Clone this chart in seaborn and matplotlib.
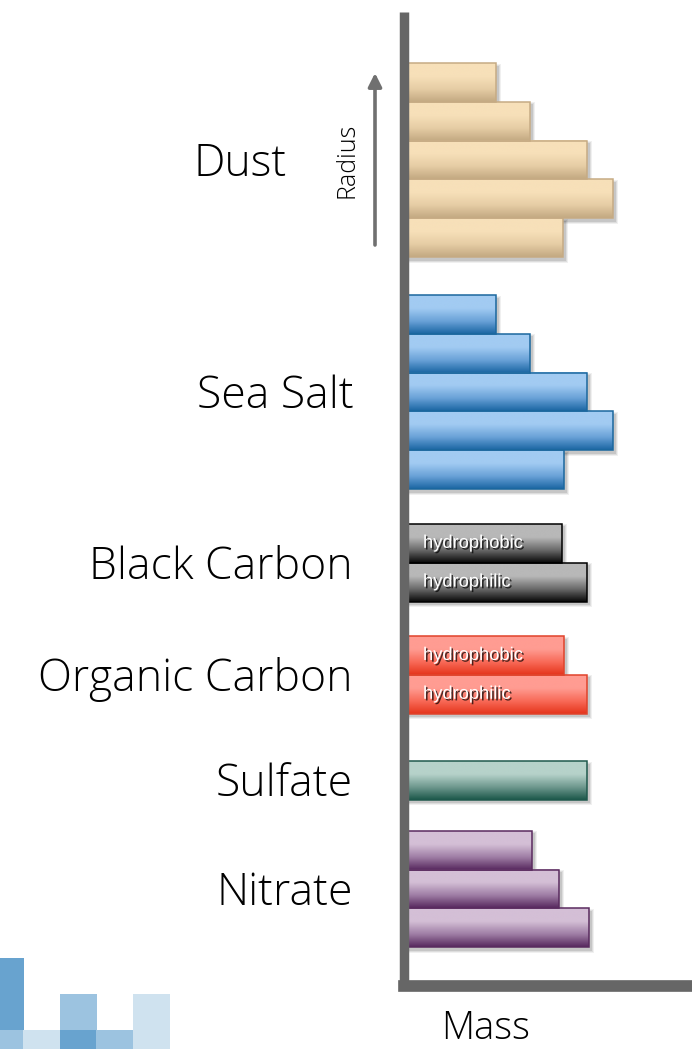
import numpy as np
import pandas as pd
import matplotlib
matplotlib.use("Agg")
import matplotlib.pyplot as plt
import matplotlib.patheffects as pe
from matplotlib.colors import LinearSegmentedColormap
from matplotlib.patches import Rectangle, FancyArrowPatch
from matplotlib import transforms
import seaborn as sns

# ---- data -------------------------------------------------------------
species = ["Dust", "Sea Salt", "Black Carbon", "Organic Carbon", "Sulfate", "Nitrate"]
dust_mass = [92, 126, 183, 209, 159]          # size bins, largest radius on top
sea_salt_mass = [92, 126, 183, 209, 160]
black_carbon_mass = [158, 183]
organic_carbon_mass = [160, 183]
sulfate_mass = [183]
nitrate_mass = [128, 155, 185]
carbon_bins = ["hydrophobic", "hydrophilic"]

group_masses = [dust_mass, sea_salt_mass, black_carbon_mass,
                organic_carbon_mass, sulfate_mass, nitrate_mass]
group_bins = [None, None, carbon_bins, carbon_bins, None, None]

# ---- styling ----------------------------------------------------------
# gradient colours per species: (top, middle, bottom, edge)
shades = {
    "Dust":           ("#f7e0b9", "#e6cda5", "#c3a982", "#c6ab84"),
    "Sea Salt":       ("#a2cbf2", "#6aa2d8", "#1b66a3", "#1b679e"),
    "Black Carbon":   ("#b8b8b8", "#6a6a6a", "#080808", "#000000"),
    "Organic Carbon": ("#ff9c92", "#f86a58", "#e5351c", "#e0432b"),
    "Sulfate":        ("#b6d2ca", "#6f998f", "#1b574a", "#1f594d"),
    "Nitrate":        ("#d4bfd6", "#a07fa6", "#58295f", "#5a2b5f"),
}
group_gaps = [0.0, 0.98, 0.9, 0.89, 1.22, 0.8]   # spacing before each group, in bar heights
label_right_px = [287, 354, 353, 353, 353, 353]  # right edge of each species name

sns.set_style("white")
plt.rcParams["font.family"] = ["Open Sans", "DejaVu Sans"]

W, H = 692, 1049
bar_px = 38.8
fig = plt.figure(figsize=(W / 100, H / 100), dpi=100)
ax_left, ax_top, ax_bottom = 403.5, 12, 986
ax = fig.add_axes([ax_left / W, 1 - ax_bottom / H, 1 - ax_left / W, (ax_bottom - ax_top) / H])

# ---- long table -------------------------------------------------------
rows, centers = [], []
cursor = 0.0
for sp, masses, gap, bins in zip(species, group_masses, group_gaps, group_bins):
    cursor += gap
    for i, m in enumerate(masses):
        rows.append({"species": sp, "mass": m, "pos": cursor + i + 0.5,
                     "bin": bins[i] if bins else ""})
    centers.append(cursor + len(masses) / 2)
    cursor += len(masses)
df = pd.DataFrame(rows)

palette = {sp: shades[sp][1] for sp in species}
sns.barplot(data=df, x="mass", y="pos", hue="species", palette=palette,
            orient="h", native_scale=True, width=1.0, dodge=False,
            errorbar=None, legend=False, ax=ax)

y_top = -(63 - ax_top) / bar_px
y_bottom = y_top + (ax_bottom - ax_top) / bar_px
x_max = W - ax_left

# gradient fill, soft drop shadow and crisp outline for every bar
for p in list(ax.patches):
    x0, y0 = p.get_x(), p.get_y()
    w, h = p.get_width(), p.get_height()
    yc = y0 + h / 2
    sp = df.loc[(df["pos"] - yc).abs().idxmin(), "species"]
    top, mid, bot, edge = shades[sp]
    for k, a in enumerate([0.10, 0.08, 0.06]):
        grow = 1.0 * k
        ax.add_patch(Rectangle((x0, y0 + (2.5 - grow) / bar_px),
                               w + 3 + grow, h + (1 + 2 * grow) / bar_px,
                               facecolor="black", alpha=a, edgecolor="none",
                               zorder=0.5))
    cmap = LinearSegmentedColormap.from_list(sp, [top, top, mid, bot])
    grad = np.linspace(0, 1, 64).reshape(-1, 1)
    ax.imshow(grad, cmap=cmap, extent=(x0, x0 + w, y0 + h, y0), origin="upper",
              aspect="auto", interpolation="bicubic", zorder=1)
    p.set_facecolor("none")
    p.set_edgecolor(edge)
    p.set_linewidth(1.1)
    p.set_zorder(2)

ax.set_xlim(0, x_max)
ax.set_ylim(y_bottom, y_top)

# hydrophobic / hydrophilic tags
for _, r in df[df["bin"] != ""].iterrows():
    ax.text(19.5, r["pos"], r["bin"], ha="left", va="center", color="white",
            fontsize=13.2, family=["Liberation Sans", "DejaVu Sans"], zorder=3,
            path_effects=[pe.SimplePatchShadow(offset=(1.2, -1.2),
                                                shadow_rgbFace="black", alpha=0.7),
                          pe.Normal()])

# species names, right aligned left of the axis
label_tr = transforms.blended_transform_factory(fig.transFigure, ax.transData)
for sp, c, xr in zip(species, centers, label_right_px):
    ax.text(xr / W, c + 16 / bar_px, sp, transform=label_tr, ha="right",
            va="baseline", fontsize=32, fontweight="light", color="black",
            clip_on=False)

# axes frame: thick grey L-shape, nothing else
ax.set_xticks([])
ax.set_yticks([])
ax.set_xlabel("")
ax.set_ylabel("")
for s in ["top", "right"]:
    ax.spines[s].set_visible(False)
ax.spines["left"].set_linewidth(6.8)
ax.spines["left"].set_color("#666666")
ax.spines["bottom"].set_linewidth(8.4)
ax.spines["bottom"].set_color("#666666")
ax.spines["bottom"].set_capstyle("projecting")
ax.spines["left"].set_capstyle("butt")
ax.spines["left"].set_zorder(4)
ax.spines["bottom"].set_zorder(4)

# mass axis title
fig.text(486 / W, 1 - 1039 / H, "Mass", ha="center", va="baseline",
         fontsize=27.5, fontweight="light", color="black")

# radius arrow with its label
fig.add_artist(FancyArrowPatch(
    (375, H - 245), (375, H - 73), transform=None,
    arrowstyle="-|>", mutation_scale=20, linewidth=2.6,
    color="#707070", shrinkA=0, shrinkB=0))
fig.text(347 / W, 1 - 160 / H, "Radius", rotation=90, ha="center", va="center",
         fontsize=18, fontweight="light", color="black")

# small tiled block emblem in the lower-left corner
mid_blue, pale_blue, faint_blue = "#68a3cf", "#9cc3e0", "#cfe2ef"
cols = [-13, 23, 60, 96, 133]
rows_px = [958, 994, 1030]
cells = [(0, 0, mid_blue), (0, 1, mid_blue), (0, 2, pale_blue),
         (1, 2, faint_blue),
         (2, 1, pale_blue), (2, 2, mid_blue),
         (3, 2, pale_blue),
         (4, 1, faint_blue), (4, 2, faint_blue)]
for ci, ri, col in cells:
    x = cols[ci]
    y = rows_px[ri]
    fig.add_artist(Rectangle((x / W, 1 - (y + 36.5) / H), 36.5 / W, 36.5 / H,
                             transform=fig.transFigure, facecolor=col,
                             edgecolor="none"))

fig.savefig("out.png", dpi=100)
